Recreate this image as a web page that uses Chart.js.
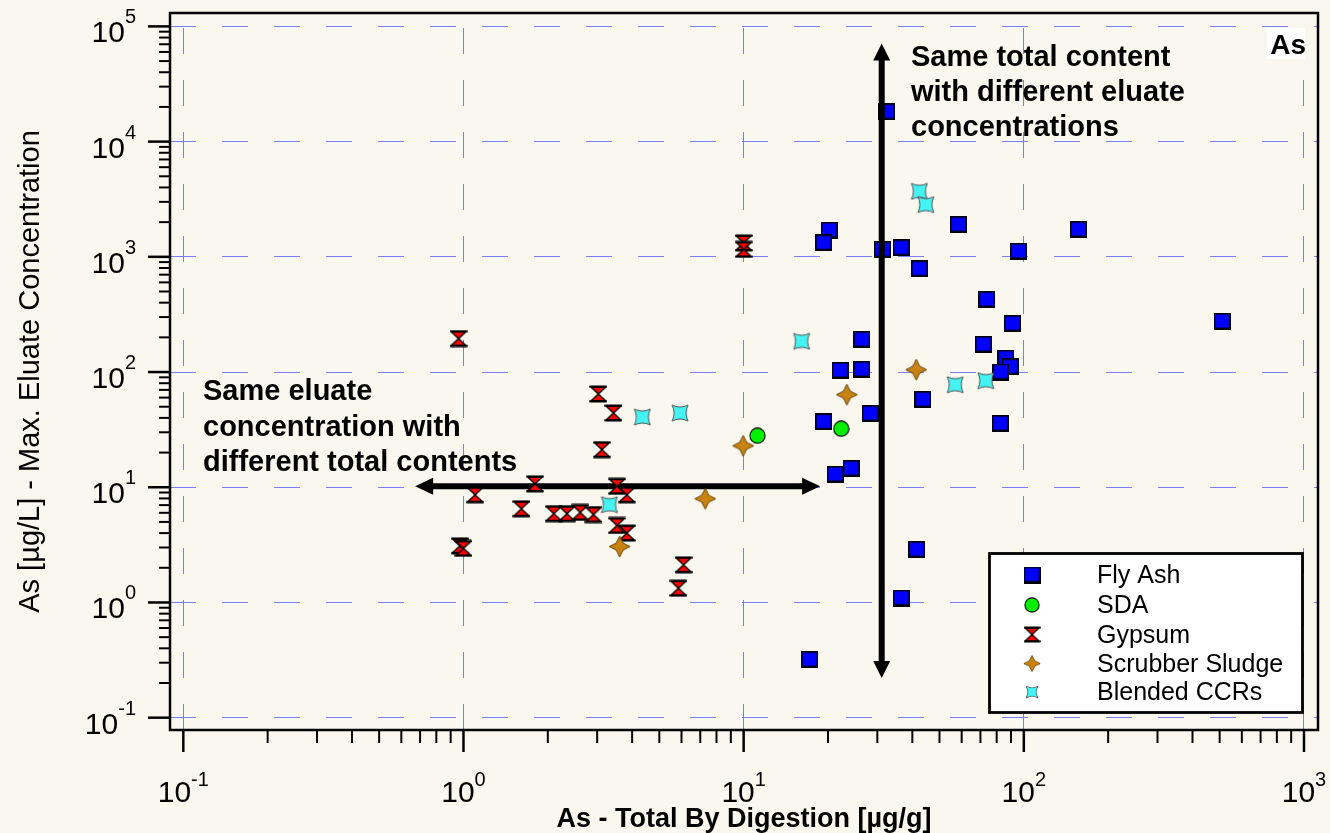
<!DOCTYPE html>
<html>
<head>
<meta charset="utf-8">
<script src="https://cdn.jsdelivr.net/npm/chart.js@4.4.0/dist/chart.umd.min.js"></script>
<style>
html,body{margin:0;padding:0;background:#FAF7EF;}
canvas{display:block;}
</style>
</head>
<body>
<canvas id="c" width="1330" height="833"></canvas>
<script>
// ---------------- DATA ----------------
const seriesNames = ['Fly Ash', 'SDA', 'Gypsum', 'Scrubber Sludge', 'Blended CCRs'];

const flyAshX = [32.4, 20.2, 19.3, 31.3, 36.5, 42.4, 58.4, 156.7, 95.7, 73.8, 91.0, 71.7, 86.3, 89.4, 82.8, 82.4, 26.4, 26.4, 22.1, 19.3, 28.3, 43.6, 21.2, 24.2, 41.5, 36.5, 17.2, 510];
const flyAshY = [18100, 1700, 1320, 1150, 1195, 785, 1900, 1720, 1115, 425, 263, 173, 132, 111, 100, 35.6, 191, 105, 103, 36.9, 43.5, 57.5, 12.9, 14.5, 2.87, 1.09, 0.318, 274];

const sdaX = [11.2, 22.3];
const sdaY = [28.0, 32.2];

const gypsumX = [10.0, 10.0, 0.96, 3.03, 3.43, 3.12, 1.80, 3.53, 3.83, 1.10, 1.61, 2.10, 2.34, 2.61, 2.91, 3.53, 3.83, 0.97, 1.0, 6.10, 5.85];
const gypsumY = [1320, 1160, 195, 64.5, 44.1, 21.2, 10.7, 10.2, 8.6, 8.6, 6.5, 5.9, 5.9, 6.05, 5.8, 4.66, 4.0, 3.1, 2.95, 2.12, 1.33];

const sludgeX = [9.96, 23.35, 41.3, 7.29, 3.61];
const sludgeY = [22.9, 63.6, 104.8, 7.95, 3.06];

const blendedX = [42.4, 44.7, 16.1, 4.35, 5.93, 3.32, 56.9, 73.2];
const blendedY = [3700, 2840, 185, 40.7, 44.1, 7.05, 77.6, 84.2];

// arrows (in data units)
const arrowHX = [0.672, 18.75];
const arrowHY = [10.2, 10.2];
const arrowVX = [31.1, 31.1];
const arrowVY = [0.2207, 71000];

// axes
const xTickExponents = [-1, 0, 1, 2, 3];
const yTickExponents = [-1, 0, 1, 2, 3, 4, 5];
const xRange = [0.08964, 1122];
const yRange = [0.07818, 130700];

const xTitle = 'As - Total By Digestion [\u00B5g/g]';
const yTitle = 'As [\u00B5g/L] - Max. Eluate Concentration';
const noteLeft = ['Same eluate', 'concentration with', 'different total contents'];
const noteRight = ['Same total content', 'with different eluate', 'concentrations'];
const cornerLabel = 'As';

// ---------------- STYLE ----------------
const FONT = '"Liberation Sans", Arial, Helvetica, sans-serif';
const BG = '#FAF7EF';
const GRID = '#7C7CFF';
const DASH = [26, 26];

function mk(w, h, draw) {
  const c = document.createElement('canvas');
  c.width = w; c.height = h;
  draw(c.getContext('2d'), w, h);
  return c;
}
const imgSquare = mk(17, 17, g => {
  g.fillStyle = '#000'; g.fillRect(0, 0, 17, 17);
  g.fillStyle = '#0000FF'; g.fillRect(1.5, 1.5, 14, 13);
});
const imgCircle = mk(17, 17, g => {
  g.beginPath(); g.arc(8.5, 8.5, 7.6, 0, Math.PI * 2);
  g.fillStyle = '#00F000'; g.fill();
  g.lineWidth = 1.1; g.strokeStyle = '#000'; g.stroke();
});
const imgHour = mk(18, 18, g => {
  g.beginPath();
  g.moveTo(1.5, 2); g.lineTo(16.5, 2); g.lineTo(9, 9);
  g.lineTo(16.5, 16); g.lineTo(1.5, 16); g.lineTo(9, 9); g.closePath();
  g.fillStyle = '#FF0000'; g.fill();
  g.lineWidth = 1.4; g.strokeStyle = '#000'; g.lineJoin = 'miter'; g.stroke();
  g.lineWidth = 2.6; g.beginPath();
  g.moveTo(0.5, 1.8); g.lineTo(17.5, 1.8); g.moveTo(0.5, 16.2); g.lineTo(17.5, 16.2); g.stroke();
});
const imgStar = mk(23, 23, g => {
  g.beginPath();
  for (let k = 0; k < 8; k++) {
    const a = -Math.PI / 2 + k * Math.PI / 4;
    const r = (k % 2 === 0) ? 10.5 : 4.9;
    const px = 11.5 + r * Math.cos(a), py = 11.5 + r * Math.sin(a);
    if (k === 0) g.moveTo(px, py); else g.lineTo(px, py);
  }
  g.closePath();
  g.fillStyle = '#C8820F'; g.fill();
  g.lineWidth = 0.9; g.strokeStyle = '#5A3A00'; g.stroke();
});
const imgAstroid = mk(18, 18, g => {
  g.beginPath();
  g.moveTo(1, 1);
  g.quadraticCurveTo(9, 5, 17, 1);
  g.quadraticCurveTo(13, 9, 17, 17);
  g.quadraticCurveTo(9, 13, 1, 17);
  g.quadraticCurveTo(5, 9, 1, 1);
  g.closePath();
  g.fillStyle = '#44F4F4'; g.fill();
  g.lineWidth = 1; g.strokeStyle = '#555'; g.stroke();
});
const seriesImgs = [imgSquare, imgCircle, imgHour, imgStar, imgAstroid];

function pts(xs, ys) { return xs.map((x, i) => ({ x: x, y: ys[i] })); }
function decades(exps) { return exps.map(e => Math.pow(10, e)); }

// ---------------- PLUGINS ----------------
const bgPlugin = {
  id: 'bg',
  beforeDraw(chart) {
    const ctx = chart.ctx;
    ctx.save(); ctx.fillStyle = BG; ctx.fillRect(0, 0, chart.width, chart.height); ctx.restore();
  }
};

function drawArrow(ctx, x1, y1, x2, y2, w, hl, hh) {
  const ang = Math.atan2(y2 - y1, x2 - x1);
  const len = Math.hypot(x2 - x1, y2 - y1);
  ctx.save();
  ctx.translate(x1, y1); ctx.rotate(ang);
  ctx.fillStyle = '#000'; ctx.strokeStyle = '#000';
  ctx.lineWidth = w; ctx.lineCap = 'butt'; ctx.setLineDash([]);
  ctx.beginPath(); ctx.moveTo(hl - 2, 0); ctx.lineTo(len - hl + 2, 0); ctx.stroke();
  ctx.beginPath(); ctx.moveTo(0, 0); ctx.lineTo(hl, -hh); ctx.lineTo(hl, hh); ctx.closePath(); ctx.fill();
  ctx.beginPath(); ctx.moveTo(len, 0); ctx.lineTo(len - hl, -hh); ctx.lineTo(len - hl, hh); ctx.closePath(); ctx.fill();
  ctx.restore();
}

const overlayPlugin = {
  id: 'overlay',
  afterDatasetDraw(chart, args) {
    if (args.index !== 0) return;
    const xs = chart.scales.x, ys = chart.scales.y, ctx = chart.ctx;
    drawArrow(ctx, xs.getPixelForValue(arrowHX[0]), ys.getPixelForValue(arrowHY[0]),
                   xs.getPixelForValue(arrowHX[1]), ys.getPixelForValue(arrowHY[1]), 6, 18, 8.5);
    drawArrow(ctx, xs.getPixelForValue(arrowVX[0]), ys.getPixelForValue(arrowVY[0]),
                   xs.getPixelForValue(arrowVX[1]), ys.getPixelForValue(arrowVY[1]), 6, 17, 8.5);
  },
  afterDraw(chart) {
    const ctx = chart.ctx, a = chart.chartArea;
    const xs = chart.scales.x, ys = chart.scales.y;
    ctx.save();
    ctx.setLineDash([]);
    // frame
    ctx.strokeStyle = '#000'; ctx.lineWidth = 2.5;
    ctx.strokeRect(a.left, a.top, a.right - a.left, a.bottom - a.top);

    // tick marks
    ctx.lineCap = 'butt';
    const xd = decades(xTickExponents), yd = decades(yTickExponents);
    xd.forEach((v, i) => {
      const p = xs.getPixelForValue(v);
      ctx.lineWidth = 2.5; ctx.beginPath(); ctx.moveTo(p, a.bottom); ctx.lineTo(p, a.bottom + 22); ctx.stroke();
      if (i < xd.length - 1) {
        for (let m = 2; m <= 9; m++) {
          const q = xs.getPixelForValue(v * m);
          ctx.lineWidth = 2; ctx.beginPath(); ctx.moveTo(q, a.bottom); ctx.lineTo(q, a.bottom + 13); ctx.stroke();
        }
      }
    });
    yd.forEach((v, i) => {
      const p = ys.getPixelForValue(v);
      ctx.lineWidth = 2.5; ctx.beginPath(); ctx.moveTo(a.left, p); ctx.lineTo(a.left - 22, p); ctx.stroke();
      if (i < yd.length - 1) {
        for (let m = 2; m <= 9; m++) {
          const q = ys.getPixelForValue(v * m);
          ctx.lineWidth = 2; ctx.beginPath(); ctx.moveTo(a.left, q); ctx.lineTo(a.left - 11, q); ctx.stroke();
        }
      }
    });

    // tick labels with superscripts
    ctx.fillStyle = '#000';
    ctx.textBaseline = 'alphabetic'; ctx.textAlign = 'left';
    const baseFont = '30px ' + FONT, supFont = '20px ' + FONT;
    xTickExponents.forEach(e => {
      const p = xs.getPixelForValue(Math.pow(10, e));
      ctx.font = baseFont; const wb = ctx.measureText('10').width;
      ctx.font = supFont; const wsup = ctx.measureText(String(e)).width;
      const start = p - (wb + wsup) / 2;
      ctx.font = baseFont; ctx.fillText('10', start, 802);
      ctx.font = supFont; ctx.fillText(String(e), start + wb, 786);
    });
    yTickExponents.forEach(e => {
      const p = ys.getPixelForValue(Math.pow(10, e));
      ctx.font = baseFont; const wb = ctx.measureText('10').width;
      ctx.font = supFont; const wsup = ctx.measureText(String(e)).width;
      const start = 136 - (wb + wsup);
      ctx.font = baseFont; ctx.fillText('10', start, p + 16);
      ctx.font = supFont; ctx.fillText(String(e), start + wb, p - 3);
    });

    // axis titles
    ctx.textAlign = 'center';
    ctx.font = 'bold 27px ' + FONT;
    ctx.fillText(xTitle, (a.left + a.right) / 2, 827);
    ctx.save();
    ctx.translate(38.5, (a.top + a.bottom) / 2);
    ctx.rotate(-Math.PI / 2);
    ctx.font = '29px ' + FONT;
    ctx.fillText(yTitle, 0, 0);
    ctx.restore();

    // annotations
    ctx.textAlign = 'left';
    ctx.font = 'bold 29px ' + FONT;
    noteLeft.forEach((t, i) => ctx.fillText(t, 203, 400 + i * 35.5));
    noteRight.forEach((t, i) => ctx.fillText(t, 911, 66 + i * 35));

    // corner label
    ctx.fillStyle = '#FFFFFF';
    ctx.fillRect(1267, 28, 38, 31);
    ctx.fillStyle = '#000';
    ctx.textAlign = 'right';
    ctx.font = 'bold 28px ' + FONT;
    ctx.fillText(cornerLabel, 1306, 54);

    // legend
    ctx.fillStyle = '#FFFFFF';
    ctx.fillRect(989, 553, 314, 160);
    ctx.strokeStyle = '#000'; ctx.lineWidth = 2.8;
    ctx.strokeRect(989.5, 553.5, 313, 159);
    const rows = [575, 605, 634.5, 663.5, 692];
    const sizes = [[17, 17], [16, 16], [17, 17], [18, 18], [13, 13]];
    ctx.textAlign = 'left';
    ctx.font = '25px ' + FONT;
    ctx.fillStyle = '#000';
    seriesNames.forEach((n, i) => {
      const [w, h] = sizes[i];
      ctx.drawImage(seriesImgs[i], 1032 - w / 2, rows[i] - h / 2, w, h);
      ctx.fillText(n, 1097, rows[i] + 8);
    });
    ctx.restore();
  }
};

// ---------------- CHART ----------------
function gridDashOffset(ctx) {
  const a = ctx.chart.chartArea;
  if (!a) return 0;
  const P = DASH[0] + DASH[1];
  const L = a.bottom - a.top;
  return (((DASH[0] - L) % P) + P) % P;
}

new Chart(document.getElementById('c'), {
  type: 'scatter',
  data: {
    datasets: [
      { label: seriesNames[0], data: pts(flyAshX, flyAshY), pointStyle: imgSquare, pointRadius: 8, order: 5 },
      { label: seriesNames[1], data: pts(sdaX, sdaY), pointStyle: imgCircle, pointRadius: 8, order: 4 },
      { label: seriesNames[2], data: pts(gypsumX, gypsumY), pointStyle: imgHour, pointRadius: 8, order: 3 },
      { label: seriesNames[3], data: pts(sludgeX, sludgeY), pointStyle: imgStar, pointRadius: 10, order: 2 },
      { label: seriesNames[4], data: pts(blendedX, blendedY), pointStyle: imgAstroid, pointRadius: 8, order: 1 }
    ]
  },
  options: {
    responsive: false,
    animation: false,
    devicePixelRatio: 1,
    layout: { padding: { left: 170, top: 13, right: 12, bottom: 103 } },
    plugins: { legend: { display: false }, tooltip: { enabled: false }, title: { display: false } },
    scales: {
      x: {
        type: 'logarithmic', position: 'bottom',
        min: xRange[0], max: xRange[1],
        afterBuildTicks: s => { s.ticks = decades(xTickExponents).map(v => ({ value: v, major: true })); },
        afterFit: s => { s.height = 0; },
        ticks: { display: false },
        title: { display: false },
        grid: { color: GRID, lineWidth: 1, drawTicks: false },
        border: { display: false, dash: DASH, dashOffset: gridDashOffset }
      },
      y: {
        type: 'logarithmic', position: 'left',
        min: yRange[0], max: yRange[1],
        afterBuildTicks: s => { s.ticks = decades(yTickExponents).map(v => ({ value: v, major: true })); },
        afterFit: s => { s.width = 0; },
        ticks: { display: false },
        title: { display: false },
        grid: { color: GRID, lineWidth: 1, drawTicks: false },
        border: { display: false, dash: DASH, dashOffset: 0 }
      }
    }
  },
  plugins: [bgPlugin, overlayPlugin]
});
</script>
</body>
</html>
